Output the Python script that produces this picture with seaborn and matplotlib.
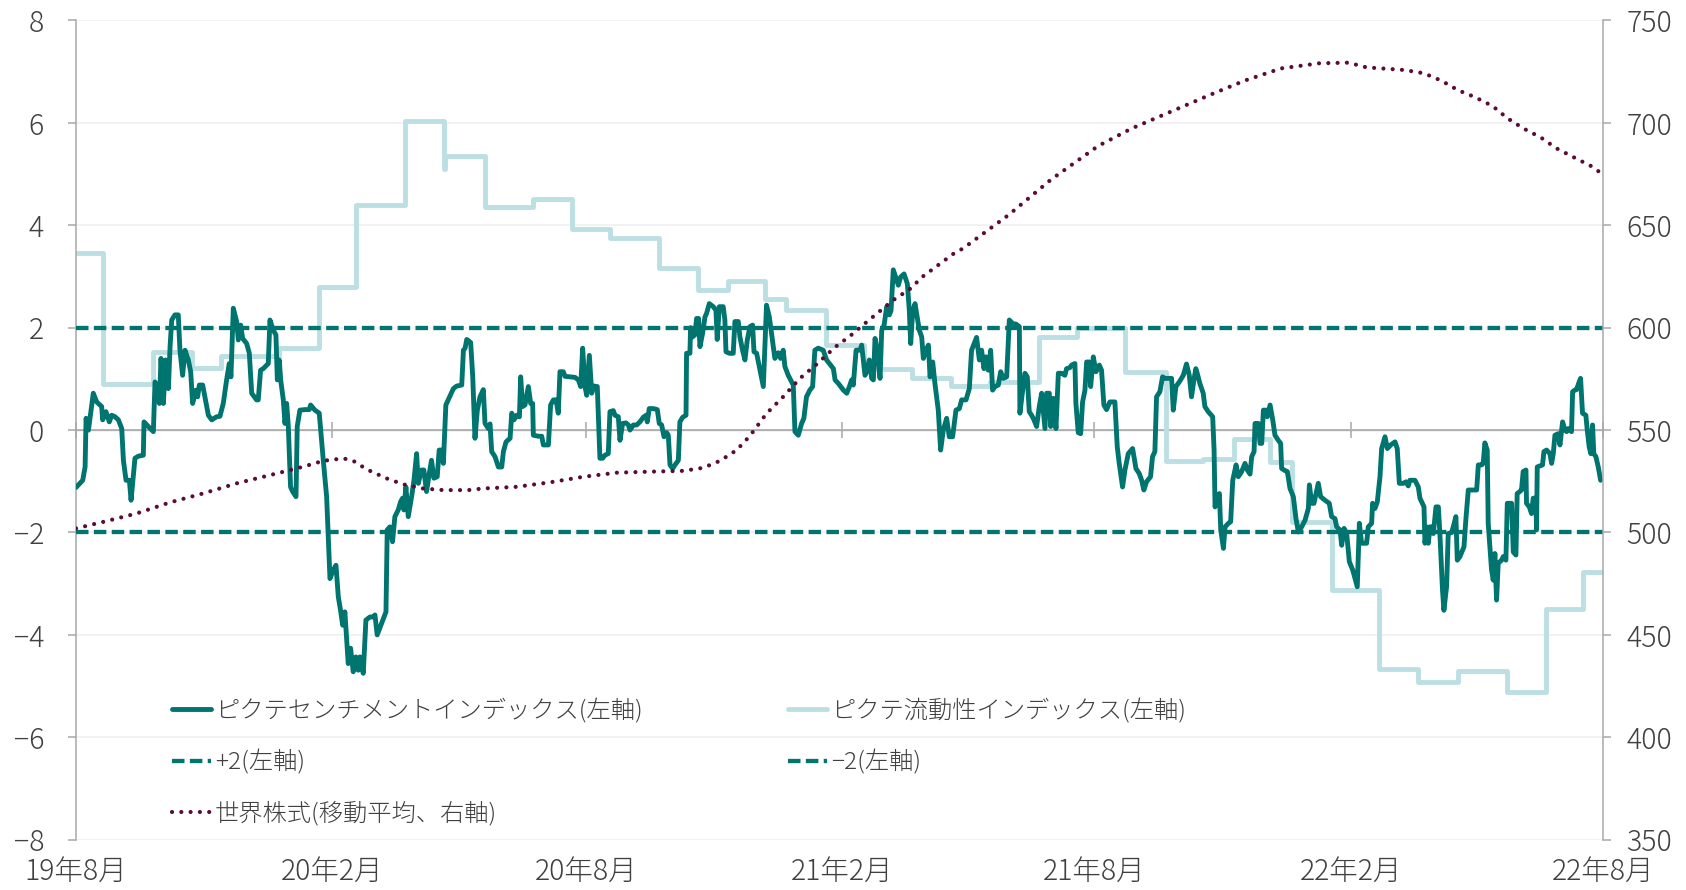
import matplotlib
matplotlib.use("Agg")
import matplotlib.pyplot as plt
import matplotlib.dates as mdates
import pandas as pd
import seaborn as sns

START = "2019-08-01"

# (days since 2019-08-01, value)
SENTIMENT = [
	(0, -1.12), (4.8, -0.98), (6.5, -0.72), (7.2, 0.23), (8.9, 0.0), (12.4, 0.72), (14.8, 0.55),
	(18.4, 0.46), (19.1, 0.2), (21.5, 0.36), (23.9, 0.16), (25.6, 0.29), (28, 0.26), (30.4, 0.2),
	(32.8, 0.03), (34, -0.59), (35.9, -0.98), (38.3, -0.98), (39.5, -1.37), (42.3, -0.55),
	(44.7, -0.51), (48.3, -0.49), (48.8, 0.16), (51.9, 0.07), (55.5, -0.03), (56.7, 0.94),
	(58.4, 0.85), (59.8, 0.52), (61, 1.4), (62.7, 0.52), (64.3, 1.37), (66.3, 0.81), (67.5, 1.63),
	(68.7, 2.15), (71, 2.25), (73.4, 2.25), (74.6, 1.56), (76.5, 1.07), (78.2, 1.56), (80.6, 1.37),
	(82.3, 1.14), (83.7, 0.52), (86.1, 0.78), (87.3, 0.65), (88.5, 0.88), (90.9, 0.88), (95, 0.29),
	(97.4, 0.2), (100.9, 0.26), (103.3, 0.27), (105.7, 0.52), (108.1, 0.98), (110, 1.3),
	(111.2, 1.04), (112.9, 2.38), (115.3, 2.12), (116.5, 1.76), (118.2, 2.05), (119.6, 1.79),
	(122.5, 1.69), (124.4, 1.5), (126.1, 0.72), (129.6, 0.59), (130.8, 0.59), (132.5, 1.17),
	(134.4, 1.2), (138, 1.3), (139.2, 2.15), (141.6, 1.95), (143.5, 1.86), (144.5, 0.98),
	(145.9, 1.37), (146.9, 0.98), (148.8, 0.59), (150, 0.13), (151.2, 0.52), (152.4, 0.07),
	(154, -1.11), (155.5, -1.2), (157.9, -1.3), (158.8, 0.07), (160.7, 0.39), (164.3, 0.4),
	(167.4, 0.4), (168.4, 0.49), (171.5, 0.39), (174.6, 0.33), (177.5, -0.59), (179.9, -1.3),
	(182.3, -2.9), (184.7, -2.73), (186.6, -2.64), (188.3, -3.26), (189.9, -3.52), (191.4, -3.81),
	(193, -3.55), (195.4, -4.56), (197.1, -4.26), (199, -4.72), (200.9, -4.43), (202.6, -4.69),
	(203.8, -4.43), (206.2, -4.75), (208.1, -3.71), (211, -3.65), (213.4, -3.65), (214.6, -3.61),
	(216.2, -4.0), (219.3, -3.78), (222.5, -3.55), (223.4, -1.95), (225.3, -1.89), (227.2, -2.18),
	(228.9, -1.69), (231.3, -1.56), (233, -1.4), (234.4, -1.33), (235.4, -1.56), (236.8, -1.11),
	(238.5, -1.69), (240.9, -1.3), (242.6, -0.98), (244.5, -0.46), (245.7, -1.04), (248, -0.78),
	(249.7, -0.78), (251.6, -1.2), (253.6, -0.85), (255.2, -0.59), (256.9, -0.94), (259.3, -0.91),
	(260.7, -0.39), (262.4, -0.39), (263.7, -0.65), (265.5, 0.49),
	(270.9, 0.81), (273.3, 0.86), (276.9, 0.88), (278.1, 1.56), (279.3, 1.6), (280.5, 1.77),
	(283.3, 1.71), (284.8, 1.04), (286.4, -0.16), (288.1, 0.39), (290, 0.65), (292.4, 0.79),
	(293.6, 0.13), (296, 0.03), (297.2, 0.12), (298.4, -0.42), (300.8, -0.52), (303.2, -0.72),
	(305.6, -0.72), (306.8, -0.42), (308.7, -0.23), (311.6, -0.16), (312.8, 0.33), (314.4, 0.2),
	(316.3, 0.29), (318.3, 0.26), (319.2, 1.04), (320.6, 0.46), (322.3, 0.49), (324.7, 0.85),
	(326.4, 0.52), (327.8, 0.52), (328.3, -0.1), (331.9, -0.12), (334.3, -0.12), (335.5, -0.29),
	(339.1, -0.29), (340.7, 0.49), (342.7, 0.59), (344.6, 0.59), (346.2, 0.33), (347.4, 1.14),
	(349.8, 1.14), (351, 1.05), (354.6, 1.04), (358.2, 1.03), (360.6, 0.98), (362.3, 0.85),
	(363.7, 1.6), (365.4, 0.85), (366.6, 0.68), (368.5, 1.46), (370.2, 0.72), (371.8, 0.86),
	(374.2, 0.85), (376.1, -0.55), (378, -0.55), (379.7, -0.49), (382.1, -0.46), (383.3, 0.36),
	(385.7, 0.38), (386.9, 0.29), (389.3, 0.26), (390.5, -0.2), (392.4, 0.13), (394.8, 0.14),
	(396.5, 0.1), (397.7, 0.0), (400.1, 0.1), (402.5, 0.1), (404.8, 0.16), (407.2, 0.25),
	(409.2, 0.29), (410.1, 0.16), (411.5, 0.42), (414.4, 0.42), (417.3, 0.4), (418.7, 0.13),
	(420.4, 0.1), (422.1, -0.13), (424, -0.05), (425.2, -0.1), (426.4, -0.68), (428.3, -0.75),
	(430, -0.68), (432.4, -0.59), (433.5, 0.16), (435.5, 0.25), (437.9, 0.29), (438.3, 1.5),
	(440.7, 1.5), (441.2, 2.0), (442.6, 1.82), (444.3, 1.86), (445.5, 2.18), (446.9, 2.18),
	(447.9, 1.63), (449.8, 1.89), (451.5, 2.21), (452.7, 2.28), (454.6, 2.47), (457.5, 2.41),
	(459.4, 2.34), (460.3, 1.77), (461.8, 2.41), (464.6, 2.41), (465.8, 2.15), (466.6, 1.53),
	(469, 1.5), (471.8, 1.5), (473, 2.12), (475.4, 2.12), (476.6, 1.82), (478.5, 1.56),
	(480.2, 1.37), (481.9, 1.76), (483.8, 2.02), (485.7, 2.05), (486.7, 1.53), (488.6, 1.5),
	(491, 1.17), (493.4, 0.85), (495.7, 2.44), (497.7, 2.21), (499.3, 1.89), (501.7, 1.4),
	(504.1, 1.51), (505.8, 1.4), (507.7, 1.56), (508.9, 1.24), (511.3, 1.07), (514.9, 0.88),
	(516.1, -0.03), (518.5, -0.1), (520.9, 0.13), (522.5, 0.23), (524.4, 0.65), (526.8, 0.78),
	(528.8, 0.85), (530.4, 1.56), (532.8, 1.6), (536.4, 1.56), (538.8, 1.37),
	(543.7, 1.2), (544.9, 0.98), (547.3, 0.91), (550.9, 0.78), (553.3, 0.72), (555.2, 0.85),
	(556.8, 0.98), (558, 0.88), (560, 1.56), (562.8, 1.56), (564, 1.66), (565.2, 1.37),
	(566.4, 1.07), (567.6, 1.14), (569.5, 1.37), (571.2, 1.01), (572.4, 0.98), (573.6, 1.79),
	(575.3, 1.56), (577.2, 1.01), (578.4, 1.95), (580.1, 2.05), (582, 2.41), (583.9, 2.25),
	(585.1, 2.34), (586.7, 3.13), (588.7, 2.96), (590.3, 2.83), (592, 2.99), (594.4, 3.05),
	(596.8, 2.86), (598.2, 2.34), (599.2, 1.69), (600.6, 2.31), (602.3, 2.47), (604, 2.18),
	(605.4, 1.95), (607.1, 1.82), (608.3, 1.4), (610.2, 1.56), (611.9, 1.66), (613.1, 1.04),
	(615, 1.33), (616.6, 0.91), (619, 0.39), (620.7, -0.39), (622.6, 0.0), (625, 0.23),
	(626.9, -0.13), (629.3, -0.13), (631.7, 0.39), (634.1, 0.42), (635.8, 0.59), (638.9, 0.59),
	(641.3, 0.81), (642.9, 1.56), (646.5, 1.81), (648.5, 1.37), (650.1, 1.56), (651.8, 1.2),
	(653.2, 1.43), (654.9, 1.17), (656.6, 1.56), (658, 0.78), (659.7, 0.85), (662.1, 0.88),
	(663.8, 1.14), (665.7, 1.01), (668.1, 1.04), (670, 2.15), (672.4, 2.08), (674.8, 2.07),
	(677.2, 2.02), (677.6, 0.33), (679.6, 0.78), (681.2, 1.11), (682.9, 1.04), (684.3, 0.36),
	(686, 0.29), (687.7, 0.2), (689.6, 0.07), (691.5, 0.46), (693.2, 0.72), (695.6, 0.03),
	(696.8, 0.72), (698.7, 0.72), (699.7, 0.07), (701.6, 0.62), (703.5, 0.03), (705.2, 1.11),
	(707.5, 1.11), (709.9, 1.07), (711.1, 1.2), (713.5, 1.22), (714.7, 1.27), (717.1, 1.3),
	(717.8, 0.52), (719.5, -0.05), (721.2, -0.07), (722.6, 0.55), (724.3, 0.78), (725.5, 1.33),
	(727.4, 1.33), (728.4, 0.85), (730.3, 1.43), (732.2, 1.14), (734.6, 1.27), (736.2, 1.17),
	(737.9, 0.49), (739.8, 0.4), (742.2, 0.55), (745.8, 0.55), (747.5, -0.33), (748.9, -0.65),
	(751.3, -1.11), (753, -0.78), (755.4, -0.46), (758.5, -0.36), (760.9, -0.75), (763.3, -0.85),
	(765, -0.98), (766.6, -1.17), (768.5, -1.01), (771.4, -0.91), (772.8, -0.52), (774.5, -0.42),
	(775.7, 0.65), (778.1, 0.75), (780, 1.04), (781.7, 1.01), (784.1, 1.01), (786.5, 1.01),
	(787.7, 0.39), (789.6, 0.85), (792, 0.94), (794.9, 1.07), (797.2, 1.29), (799.2, 1.07),
	(800.8, 0.65), (802.5, 0.98), (803.9, 1.2), (804.9, 1.11), (806.8, 0.91), (809.2, 0.72),
	(810.4, 0.46), (812.8, 0.36),
	(816, 0.26), (817, -0.39), (817.7, -1.5), (819.4, -1.3), (820.8, -1.24), (821.8, -1.95),
	(823.7, -2.31), (824.9, -1.89), (827.3, -1.82), (828.9, -1.79), (830.4, -0.98), (832.8, -0.68),
	(834.4, -0.91), (836.8, -0.81), (839.2, -0.65), (840.9, -0.78), (842.8, -0.86), (844, -0.52),
	(845.7, -0.42), (846.4, 0.13), (848.8, 0.13), (850, -0.26), (851.2, -0.26), (852.4, 0.39),
	(854.3, 0.39), (855.2, 0.26), (857.2, 0.49), (859.1, 0.2), (860.7, -0.1), (863.1, -0.2),
	(864.8, -0.26), (865.5, -0.75), (867.9, -0.79), (869.6, -0.81), (871.5, -1.14), (873.9, -1.3),
	(875.8, -1.73), (877.5, -1.99), (879.9, -1.89), (882.3, -1.76), (884.7, -1.53), (885.4, -1.07),
	(887.1, -1.43), (888.7, -1.43), (890.2, -1.24), (891.8, -1.04), (893.5, -1.3), (896.6, -1.37),
	(899.7, -1.43), (901.4, -1.69), (903.8, -1.73), (905, -1.89), (907.4, -1.95), (908.6, -2.25),
	(910.3, -1.92), (912.2, -2.02), (914.1, -2.57), (916.5, -2.73), (918.2, -2.9), (919.8, -3.06),
	(921.3, -1.82), (922.9, -2.21), (925.3, -2.21), (926.5, -2.21), (927.7, -1.89), (930.1, -1.82),
	(930.8, -1.43), (932.5, -1.53), (934.2, -1.4), (936.1, -0.91), (937.3, -0.36), (939.7, -0.13),
	(941.4, -0.36), (943.8, -0.29), (946.9, -0.23), (948.5, -0.36), (950, -1.04), (952.8, -1.04),
	(954.8, -1.01), (956.4, -1.09), (957.6, -0.98), (961.2, -0.98), (963.6, -1.11), (964.8, -1.33),
	(967.7, -1.5), (968.4, -2.21), (969.6, -1.89), (970.8, -2.21), (972, -1.89), (973.2, -1.89),
	(974.4, -2.02), (976.3, -1.5), (978, -1.5), (979.1, -2.02), (981, -3.13), (982, -3.52),
	(983.9, -3.06), (985.1, -2.02), (987.5, -2.0), (988.7, -1.89), (990.6, -1.69), (991.6, -2.54),
	(993.5, -2.47), (996.4, -2.28), (997.8, -1.73), (999.5, -1.17), (1001.9, -1.17),
	(1005.5, -1.17), (1006.7, -0.68), (1009.1, -0.68), (1010.2, -0.65), (1011.4, -0.25),
	(1013.1, -0.39), (1013.8, -1.82), (1016.2, -2.73), (1017.4, -2.93), (1018.6, -2.41),
	(1019.8, -3.32), (1021, -2.6), (1023.4, -2.54), (1024.6, -2.47), (1026.5, -2.54),
	(1027.5, -1.43), (1029.4, -1.43), (1030.6, -1.43), (1031.8, -2.38), (1033.7, -2.44),
	(1034.6, -1.24), (1036.5, -1.2), (1037.7, -1.17), (1038.9, -0.81), (1040.9, -0.78),
	(1041.3, -1.43), (1043.3, -1.5), (1044.9, -1.63), (1046.1, -1.33), (1048, -1.33),
	(1048.5, -1.95), (1049, -0.72), (1050.9, -0.7), (1052.8, -0.68), (1053.8, -0.42),
	(1055.7, -0.39), (1058.1, -0.46), (1059.3, -0.65), (1060.5, -0.46), (1061.7, -0.1),
	(1064.1, -0.07), (1065.3, -0.29), (1067.2, 0.16), (1068.9, 0.0), (1070.1, -0.03),
	(1071.2, 0.03), (1073.6, -0.03), (1074.4, 0.75), (1076, 0.78), (1077.2, 0.79), (1079.1, 0.94),
	(1080.1, 1.01), (1081.5, 0.33), (1083.9, 0.29), (1084.9, 0.0), (1086.3, -0.33), (1087.5, -0.46),
	(1088.7, 0.1), (1089.6, -0.46), (1091.1, -0.52), (1092.8, -0.72), (1094.5, -0.98),
]

# step series: (first day of the step, level)
LIQUIDITY = [
	(0, 3.45), (19.7, 0.9), (55.5, 1.52), (83, 1.21), (104, 1.44), (146, 1.6), (174.3, 2.8),
	(201.2, 4.39), (236.2, 6.03), (264.5, 5.1), (265.2, 5.35), (293.4, 4.35), (328.3, 4.52),
	(355.8, 3.92), (383.3, 3.76), (418.7, 3.17), (446.5, 2.73), (467.7, 2.92), (494.6, 2.56),
	(509.8, 2.35), (538.7, 1.66), (566, 1.2), (600.3, 1.01), (628, 0.86), (656, 0.93), (691, 1.81),
	(718.8, 2.0), (753.4, 1.14), (782.2, -0.61), (809, -0.57), (831, -0.18), (857.4, -0.62),
	(872.6, -1.8), (901.4, -3.13), (935.5, -4.66), (963.5, -4.92), (991.8, -4.7), (1027.3, -5.11),
	(1055.3, -3.49), (1081.5, -2.78), (1096, -2.78),
]

WORLD_MA = [
	(0, 502), (19.6, 505.2), (43.5, 509.3), (67.5, 514.7), (91.4, 519.1), (115.3, 524),
	(139.2, 528), (163, 532.1), (177.5, 535), (191.8, 536.2), (199, 535), (205, 532.4),
	(211, 530.1), (223, 526.4), (235, 523.5), (249, 521.5), (263.6, 520.7), (281.5, 520.7),
	(292.4, 521.5), (316.3, 522.3), (340.3, 524.5), (364.2, 527.2), (388.1, 529.2), (412, 529.7),
	(436, 530.1), (450.3, 531.6), (462.3, 535), (474.2, 540.2), (483.8, 547.2), (495.7, 558.1),
	(507.7, 566.3), (519.6, 575.2), (531.6, 582.1), (544.9, 590.5), (555.6, 595.9),
	(566.4, 602.1), (586.7, 613.5), (598.3, 618.7), (608.3, 625.2), (630.3, 636.3),
	(636.8, 638.7), (669.4, 655), (700.1, 672.4), (733.7, 688.7), (757.9, 697.3), (788.8, 706.3),
	(813.8, 713.6), (838.8, 720.6), (865.1, 726.6), (892.6, 729.1), (913.4, 729.4),
	(926.4, 727.1), (953.9, 725.8), (967.7, 724.2), (980.2, 720.6), (992, 716), (1004.5, 712.5),
	(1017, 708.2), (1027.7, 702.2), (1039, 697.3), (1051.5, 692.9), (1062.7, 687.6),
	(1075.2, 683.2), (1087.7, 678.9), (1093.5, 676.1),
]

BANDS = [2, -2]
X_TICKS = ["2019-08-01", "2020-02-01", "2020-08-01", "2021-02-01", "2021-08-01", "2022-02-01", "2022-08-01"]
LEFT_TICKS = list(range(-8, 9, 2))
RIGHT_TICKS = list(range(350, 751, 50))
LABEL_SENT = "ピクテセンチメントインデックス(左軸)"
LABEL_LIQ = "ピクテ流動性インデックス(左軸)"
LABEL_PLUS = "+2(左軸)"
LABEL_MINUS = "−2(左軸)"
LABEL_MA = "世界株式(移動平均、右軸)"

TEAL = "#00746F"
LIGHT = "#BCDFE3"
MAROON = "#5A0C36"
GRAY = "#A8A8A8"
GRID = "#EFEFEF"
TEXT = "#404040"


def to_frame(pairs):
	df = pd.DataFrame(pairs, columns=["day", "value"])
	df["date"] = pd.Timestamp(START) + pd.to_timedelta(df["day"], unit="D")
	return df


def main() -> None:
	sns.set_style("white")
	plt.rcParams["font.family"] = ["Noto Sans CJK JP", "DejaVu Sans"]
	plt.rcParams["font.weight"] = "light"
	plt.rcParams["axes.unicode_minus"] = True

	sent = to_frame(SENTIMENT)
	liq = to_frame(LIQUIDITY)
	ma = to_frame(WORLD_MA)
	ticks = pd.to_datetime(X_TICKS)

	fig = plt.figure(figsize=(16.86, 8.90), dpi=100)
	ax = fig.add_axes([0.0451, 0.0565, 0.9055, 0.9205])
	ax2 = ax.twinx()

	# grid + zero line
	for v in LEFT_TICKS:
		ax.axhline(v, color=GRID, lw=1.1, zorder=0.5)
	ax.axhline(0, color=GRAY, lw=1.1, zorder=1)

	sns.lineplot(data=liq, x="date", y="value", ax=ax, color=LIGHT, linewidth=3.5,
				 drawstyle="steps-post", estimator=None, zorder=2, legend=False)
	h_liq = ax.lines[-1]
	band_handles = []
	for b in BANDS:
		band_handles.append(ax.axhline(b, color=TEAL, lw=3.1, linestyle=(0, (2.9, 1.25)),
									   dash_capstyle="butt", zorder=3))
	sns.lineplot(data=sent, x="date", y="value", ax=ax, color=TEAL, linewidth=3.5,
				 estimator=None, zorder=4, legend=False)
	h_sent = ax.lines[-1]
	sns.lineplot(data=ma, x="date", y="value", ax=ax2, color=MAROON, linewidth=3.0,
				 linestyle=(0, (0.01, 2.22)), dash_capstyle="round", estimator=None, legend=False)
	h_ma = ax2.lines[-1]

	ax.set_xlim(ticks[0], ticks[-1])
	ax.set_ylim(-8, 8)
	ax2.set_ylim(350, 750)
	ax.set_yticks(LEFT_TICKS)
	ax2.set_yticks(RIGHT_TICKS)
	ax.set_xticks(ticks)
	ax.set_xticklabels([f"{d.year % 100}年{d.month}月" for d in ticks])
	ax.set_xlabel("")
	ax.set_ylabel("")
	ax2.set_ylabel("")

	for a in (ax, ax2):
		for s in a.spines.values():
			s.set_visible(False)
	ax.spines["left"].set_visible(True)
	ax.spines["left"].set_color(GRAY)
	ax.spines["left"].set_linewidth(1.1)
	ax2.spines["right"].set_visible(True)
	ax2.spines["right"].set_color(GRAY)
	ax2.spines["right"].set_linewidth(1.1)

	ax.tick_params(axis="x", length=0, pad=12, labelsize=20.5, labelcolor=TEXT)
	ax.tick_params(axis="y", length=6, width=1.1, color=GRAY, pad=17, labelsize=20.5, labelcolor=TEXT)
	ax2.tick_params(axis="y", length=6, width=1.1, color=GRAY, pad=11, labelsize=20.5, labelcolor=TEXT)

	# tick marks on the zero line
	sec = ax.secondary_xaxis(0.5)
	sec.set_xticks(mdates.date2num(ticks))
	sec.set_xticklabels([])
	sec.spines["bottom"].set_visible(False)
	sec.tick_params(axis="x", direction="inout", length=12, width=1.1, color=GRAY)

	handles = [h_sent, band_handles[0], h_ma, h_liq, band_handles[1]]
	labels = [LABEL_SENT, LABEL_PLUS, LABEL_MA, LABEL_LIQ, LABEL_MINUS]
	ax2.legend(handles, labels, ncol=2, loc="upper left", bbox_to_anchor=(0.063, 0.172),
			   frameon=False, fontsize=17.5, labelcolor=TEXT, handlelength=1.6, handletextpad=0.15,
			   columnspacing=6.0, labelspacing=1.07, borderpad=0, borderaxespad=0)

	fig.savefig("out.png", dpi=100)


if __name__ == "__main__":
	main()
